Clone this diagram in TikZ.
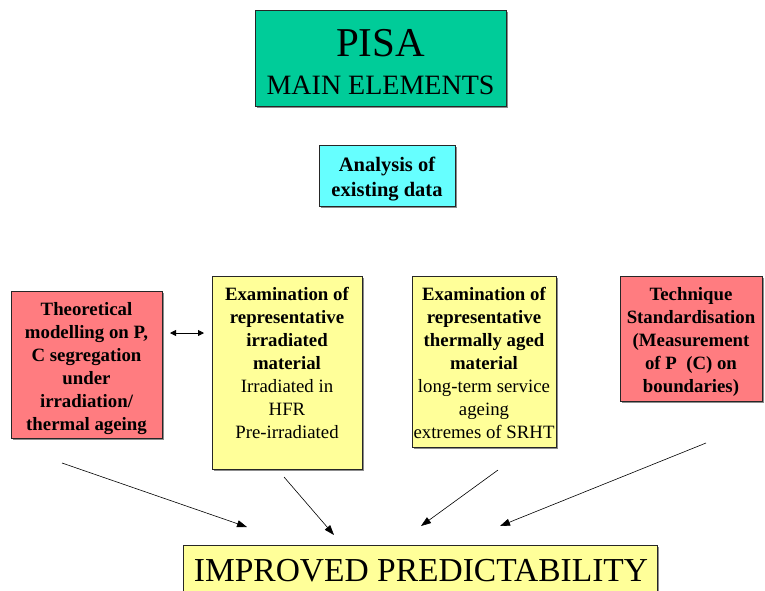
\documentclass[tikz,border=0pt]{standalone}
\usepackage{fontspec}
\setmainfont{Liberation Serif}
\usetikzlibrary{arrows.meta,shadows}
\definecolor{titlegreen}{HTML}{00CC99}
\definecolor{datacyan}{HTML}{66FFFF}
\definecolor{modelred}{HTML}{FF7C80}
\definecolor{examyellow}{HTML}{FFFF99}
\tikzset{
  panel/.style={draw=black!85, line width=0.8pt, inner sep=0pt, anchor=north west,
    drop shadow={shadow xshift=1.5pt, shadow yshift=-1.5pt, fill=black!45, opacity=1}},
  body/.style={font=\fontsize{18.8}{23}\selectfont, align=center, inner sep=0pt},
  boldbody/.style={body, font=\fontsize{18.8}{23}\selectfont\bfseries},
  feed/.style={-{Triangle[length=10pt,width=7pt]}, line width=0.6pt},
  link/.style={{Triangle[length=6pt,width=6pt]}-{Triangle[length=6pt,width=6pt]}, line width=0.8pt},
}
\begin{document}
\begin{tikzpicture}[x=1pt,y=-1pt]
\useasboundingbox (0,0) rectangle (765,590);
\clip (0,0) rectangle (765,590);
\fill[white] (0,0) rectangle (765,590);

% heading
\node[panel, fill=titlegreen, minimum width=251pt, minimum height=96pt] (title) at (255,10) {};
\node[font=\fontsize{41}{41}\selectfont, inner sep=0pt] (pisa) at (380.5,43) {PISA};
\node[font=\fontsize{28}{28}\selectfont, inner sep=0pt] (mainel) at (380.5,85.5) {MAIN ELEMENTS};

% data analysis
\node[panel, fill=datacyan, minimum width=136pt, minimum height=61pt] (data) at (319,145) {};
\node[font=\fontsize{20.5}{25}\selectfont\bfseries, align=center, inner sep=0pt] (datatxt)
  at (387,179.5) {Analysis of\\existing data};

% four work packages
\node[panel, fill=modelred, minimum width=151pt, minimum height=147pt] (model) at (11,291) {};
\node[boldbody] (modeltxt) at (86.5,368.5)
  {Theoretical\\modelling on P,\\C segregation\\under\\irradiation/\\thermal ageing};

\node[panel, fill=examyellow, minimum width=150pt, minimum height=193pt] (irr) at (212,276) {};
\node[body, anchor=north] (irrtxt) at (287,287)
  {\textbf{Examination of}\\\textbf{representative}\\\textbf{irradiated}\\\textbf{material}\\
   Irradiated in\\HFR\\Pre-irradiated};

\node[panel, fill=examyellow, minimum width=144pt, minimum height=171pt] (therm) at (412,276) {};
\node[body] (thermtxt) at (484,362.5)
  {\textbf{Examination of}\\\textbf{representative}\\\textbf{thermally aged}\\\textbf{material}\\
   long-term service\\ageing\\extremes of SRHT};

\node[panel, fill=modelred, minimum width=142pt, minimum height=125pt] (tech) at (620,276) {};
\node[boldbody] (techtxt) at (691,341.5)
  {Technique\\Standardisation\\(Measurement\\of P~~(C) on\\boundaries)};

% outcome
\node[panel, fill=examyellow, minimum width=474pt, minimum height=70pt] (goal) at (183,545) {};
\node[font=\fontsize{33.5}{33.5}\selectfont, inner sep=0pt] (goaltxt) at (421,571) {IMPROVED PREDICTABILITY};

% connectors
\coordinate (l1) at (170,333);
\coordinate (l2) at (204,333);
\draw[link] (l1) -- (l2);

\coordinate (s1) at (62,463);   \coordinate (e1) at (247,527);
\coordinate (s2) at (284,477);  \coordinate (e2) at (334,535);
\coordinate (s3) at (498,470);  \coordinate (e3) at (421,526);
\coordinate (s4) at (706,443);  \coordinate (e4) at (500,526);
\draw[feed] (s1) -- (e1);
\draw[feed] (s2) -- (e2);
\draw[feed] (s3) -- (e3);
\draw[feed] (s4) -- (e4);
\end{tikzpicture}
\end{document}
